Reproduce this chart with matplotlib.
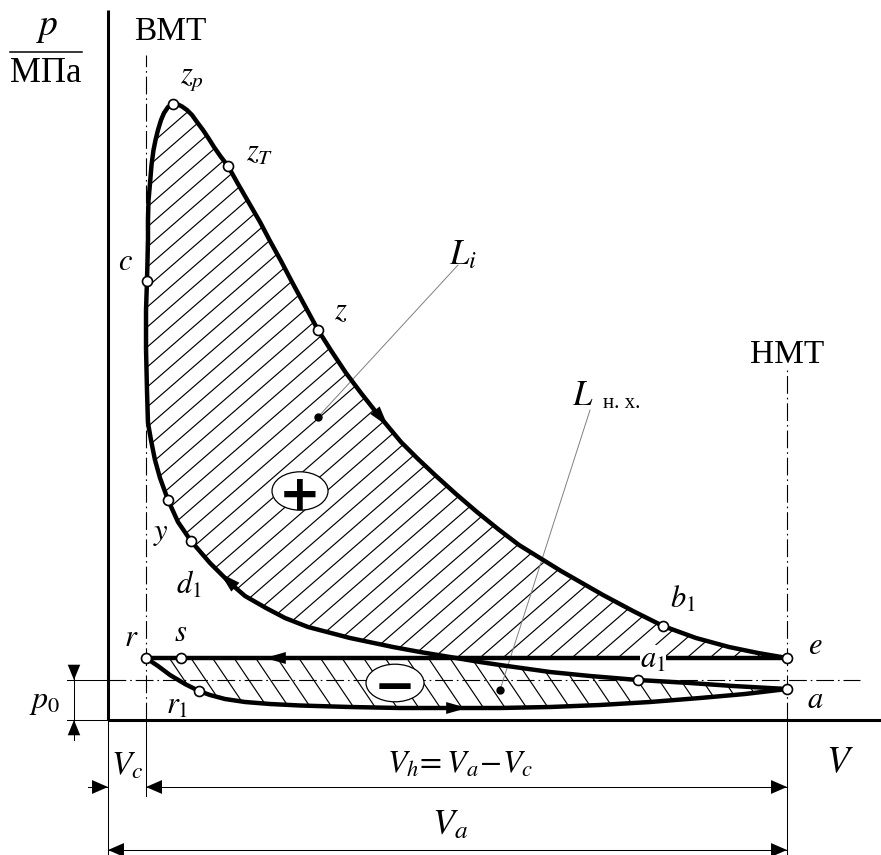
import numpy as np
import matplotlib
matplotlib.use("Agg")
import matplotlib.pyplot as plt
from matplotlib.patches import Polygon, Ellipse
from matplotlib.collections import LineCollection

plt.rcParams["font.family"] = ["Liberation Serif", "DejaVu Serif"]
plt.rcParams["mathtext.fontset"] = "stix"

# ---------------- data (V in % of V_a, p in MPa) ----------------
V_A = 100.0
V_C = 5.6
P_0 = 0.10
P_EXH = 0.155

# combustion + expansion: c -> z_p -> z_T -> z -> b1 -> e
exp_V = [5.74, 5.82, 5.89, 5.89, 5.96, 6.19, 6.41, 6.70, 7.00, 7.36, 7.81, 8.25, 8.84,
         9.57, 10.31, 10.90, 11.63, 12.37, 13.11, 13.99, 14.87, 15.61, 16.64, 17.67,
         19.15, 20.77, 22.39, 23.86, 25.48, 27.10, 29.01, 30.93, 32.99, 35.05, 37.26,
         39.47, 43.15, 45.66, 48.16, 51.25, 54.34, 57.44, 60.53, 63.62, 66.72, 69.81,
         72.90, 77.32, 81.74, 86.60, 91.46, 95.73, 100.0]
exp_p = [1.0975, 1.15, 1.2, 1.25, 1.2975, 1.3425, 1.3875, 1.425, 1.45, 1.475, 1.5, 1.5175, 1.5325,
         1.54, 1.5388, 1.5338, 1.525, 1.5125, 1.495, 1.475, 1.4525, 1.4325, 1.4075, 1.385,
         1.34, 1.2925, 1.245, 1.1975, 1.1475, 1.095, 1.035, 0.975, 0.92, 0.8675, 0.8175,
         0.77, 0.695, 0.6525, 0.6125, 0.565, 0.52, 0.4775, 0.4375, 0.405, 0.3725, 0.3425,
         0.3125, 0.2725, 0.235, 0.205, 0.1825, 0.1675, 0.155]

# compression: a -> a1 -> d1 -> y -> c
comp_V = [100.0, 92.05, 85.71, 78.06, 70.99, 65.10, 57.73, 54.79, 50.37, 45.95, 41.97,
          35.64, 29.46, 26.07, 23.27, 20.18, 17.97, 15.02, 12.22, 10.31, 8.84, 7.66,
          6.92, 6.33, 5.89, 5.74, 5.60, 5.60, 5.74]
comp_p = [0.0775, 0.085, 0.0925, 0.1, 0.11, 0.12, 0.1375, 0.145, 0.1575, 0.17, 0.1825,
          0.205, 0.2325, 0.255, 0.28, 0.31, 0.3425, 0.3925, 0.4475, 0.495, 0.55, 0.605,
          0.65, 0.70, 0.7425, 0.825, 0.9275, 1.025, 1.0975]

# intake: r -> r1 -> a
int_V = [5.60, 7.36, 9.13, 11.34, 13.40, 15.02, 17.23, 20.18, 23.86, 28.28, 35.64,
         43.00, 51.40, 57.73, 65.10, 72.46, 79.82, 87.19, 93.81, 100.0]
int_p = [0.155, 0.135, 0.1125, 0.09, 0.0725, 0.0625, 0.0525, 0.045, 0.04, 0.03625, 0.0325,
         0.03, 0.03, 0.03, 0.0325, 0.0375, 0.045, 0.055, 0.065, 0.0775]

# exhaust: e -> r
exh_V = [100.0, 5.6]
exh_p = [0.155, 0.155]

# characteristic points
pt_names = ["z_p", "z_T", "c", "z", "y", "d_1", "b_1", "e", "a_1", "a", "r", "s", "r_1"]
pt_V = [9.57, 17.67, 5.74, 30.93, 8.84, 12.22, 81.74, 100.0, 78.06, 100.0, 5.6, 10.75, 13.40]
pt_p = [1.54, 1.385, 1.0975, 0.975, 0.55, 0.4475, 0.235, 0.155, 0.1, 0.0775, 0.155, 0.155, 0.0725]
# label offsets (pixels)
pt_off = [(19, 25), (32, 13), (-21, 19), (23, 18), (-7, -33), (-2, -44), (20, 26),
          (28, 12), (15, 20), (28, -11), (-15, 20), (0, 25), (-22, -15)]

# ---------------- figure ----------------
W, H, DPI = 881, 855, 100
fig = plt.figure(figsize=(W / DPI, H / DPI), dpi=DPI)
ax = fig.add_axes([0, 0, 1, 1])
ax.set_xlim(-108 / 6.79, (W - 108) / 6.79)
ax.set_ylim((720 - H) / 400, 720 / 400)
ax.axis("off")

K = "black"
LW_CURVE = 3.2
LW_AX = 2.2
LW_THIN = 0.75


def hatch(poly, angle_deg, spacing, lw=0.85):
    patch = Polygon(poly, closed=True, facecolor="none", edgecolor="none")
    ax.add_patch(patch)
    disp = ax.transData.transform(np.asarray(poly))
    x0, y0 = disp.min(0) - 60
    x1, y1 = disp.max(0) + 60
    t = np.tan(np.radians(angle_deg))
    cands = [y0 - t * x0, y0 - t * x1, y1 - t * x0, y1 - t * x1]
    ks = np.arange(np.floor(min(cands) / spacing) * spacing, max(cands) + spacing, spacing)
    inv = ax.transData.inverted()
    segs = [inv.transform([(x0, t * x0 + k), (x1, t * x1 + k)]) for k in ks]
    lc = LineCollection(segs, colors=K, linewidths=lw, zorder=1)
    ax.add_collection(lc)
    lc.set_clip_path(patch)


# regions
cV, cp = np.array(comp_V), np.array(comp_p)
mono = slice(0, 25)  # monotonic part of the compression line
V_x = float(np.interp(P_EXH, cp[mono], cV[mono]))
hi = cp > P_EXH
upper = [(V_x, P_EXH)] + list(zip(cV[hi], cp[hi])) + list(zip(exp_V[1:], exp_p[1:]))
lower = [(exh_V[1], exh_p[1]), (V_x, P_EXH)] + list(zip(cV[~hi][::-1], cp[~hi][::-1])) \
        + list(zip(int_V[::-1], int_p[::-1]))
hatch(upper, 41, 20)
hatch(lower, -56, 32)

# axes
ax.plot([0, 0], [0, 1.775], color=K, lw=LW_AX, solid_capstyle="butt", zorder=5)
ax.plot([0, (W - 108) / 6.79], [0, 0], color=K, lw=LW_AX, solid_capstyle="butt", zorder=5)

# dead-centre lines
dd = dict(color=K, lw=0.8, dashes=(16, 3.5, 1.5, 3.5), zorder=2)
ax.plot([V_C, V_C], [0, 1.6625], **dd)
ax.plot([V_A, V_A], [0, 0.875], **dd)
ax.plot([0, 110.75], [P_0, P_0], **dd)
thin = dict(color=K, lw=LW_THIN, zorder=2)
ax.plot([V_C, V_C], [0, -0.19], **thin)
ax.plot([V_A, V_A], [0, -0.3375], **thin)
ax.plot([0, 0], [0, -0.3375], **thin)
ax.plot([-6.04, 0], [P_0, P_0], **thin)
ax.plot([-6.04, 0], [0, 0], **thin)

# cycle curves
cs = dict(color=K, lw=LW_CURVE, solid_joinstyle="round", solid_capstyle="round", zorder=4)
ax.plot(exp_V, exp_p, **cs)
ax.plot(comp_V, comp_p, **cs)
ax.plot(int_V, int_p, **cs)
ax.plot(exh_V, exh_p, **cs)


def head(tip, tail, hl=15, hw=4.3):
    ax.annotate("", xy=tip, xytext=tail,
                arrowprops=dict(arrowstyle=f"-|>,head_length={hl},head_width={hw}",
                                mutation_scale=1, lw=0, color=K,
                                shrinkA=0, shrinkB=0), zorder=6)


# flow-direction arrows
eV, ep = exp_V[23:], exp_p[23:]
v1, v0 = 41.24, 37.0
head((v1, np.interp(v1, eV, ep)), (v0, np.interp(v0, eV, ep)))
v1, v0 = 16.5, 20.0
head((v1, np.interp(v1, cV[mono][::-1], cp[mono][::-1])), (v0, np.interp(v0, cV[mono][::-1], cp[mono][::-1])))
head((23.12, P_EXH), (27.0, P_EXH))
v1, v0 = 52.87, 49.0
head((v1, np.interp(v1, int_V, int_p)), (v0, np.interp(v0, int_V, int_p)))

# markers
ax.plot(pt_V, pt_p, "o", ms=7.2, mfc="white", mec=K, mew=1.2, ls="none", zorder=7)
for n, v, p, off in zip(pt_names, pt_V, pt_p, pt_off):
    kw = {}
    if n == "a_1":
        kw["bbox"] = dict(facecolor="white", edgecolor="none", pad=0.5)
    ax.annotate(f"${n}$", xy=(v, p), xytext=off, textcoords="offset pixels",
                ha="center", va="center", fontsize=22, zorder=8, **kw)

# plus / minus signs
ax.add_patch(Ellipse((28.28, 0.5725), 8.25, 0.096, facecolor="white", edgecolor=K, lw=0.9, zorder=3))
ax.text(28.28, 0.5725, "+", fontsize=36, fontweight="bold", family="DejaVu Sans",
        ha="center", va="center_baseline", zorder=4)
ax.add_patch(Ellipse((42.27, 0.0925), 8.54, 0.094, facecolor="white", edgecolor=K, lw=0.9, zorder=3))
ax.text(42.27, 0.0925, "\u2212", fontsize=36, fontweight="bold", family="DejaVu Sans",
        ha="center", va="center_baseline", zorder=4)

# work leaders
ax.plot([30.93, 51.55], [0.7575, 1.1375], color="#808080", lw=0.7, zorder=2)
ax.plot([57.73, 70.99], [0.075, 0.775], color="#808080", lw=0.7, zorder=2)
ax.plot([30.93, 57.73], [0.7575, 0.075], "o", color=K, ms=5, zorder=5)
ax.text(52.28, 1.16, "$L_i$", fontsize=25, ha="center", va="center")
ax.text(69.96, 0.81, "$L$", fontsize=25, ha="center", va="center")
ax.text(75.7, 0.7925, "н. х.", fontsize=15, ha="center", va="center")

# axis labels
ax.text(-8.98, 1.73, "$p$", fontsize=27, ha="center", va="center")
ax.plot([-14.43, -3.83], [1.67, 1.67], color=K, lw=1.1)
ax.text(-9.13, 1.6175, "МПа", fontsize=25, ha="center", va="center")
ax.text(9.13, 1.72, "ВМТ", fontsize=24, ha="center", va="center")
ax.text(100.0, 0.9125, "НМТ", fontsize=24, ha="center", va="center")
ax.text(107.8, -0.1075, "$V$", fontsize=27, ha="center", va="center")

# p0 dimension
ax.plot([-5.01, -5.01], [0.1375, -0.05], **thin)
head((-5.01, P_0), (-5.01, 0.16), hl=11, hw=4.5)
head((-5.01, 0.0), (-5.01, -0.06), hl=11, hw=4.5)
ax.text(-9.28, 0.045, "$p_0$", fontsize=23, ha="center", va="center")

# volume dimensions
ax.plot([-2.95, 0], [-0.1675, -0.1675], **thin)
head((0.0, -0.1675), (-4.0, -0.1675), hl=11.5, hw=5)
ax.plot([V_C, V_A], [-0.1675, -0.1675], **thin)
head((V_C, -0.1675), (V_C + 4.0, -0.1675), hl=11.5, hw=5)
head((V_A, -0.1675), (V_A - 4.0, -0.1675), hl=11.5, hw=5)
ax.plot([0, V_A], [-0.325, -0.325], **thin)
head((0.0, -0.325), (4.0, -0.325), hl=11.5, hw=5)
head((V_A, -0.325), (V_A - 4.0, -0.325), hl=11.5, hw=5)
ax.text(2.8, -0.115, "$V_c$", fontsize=24, ha="center", va="center")
ax.text(51.84, -0.1125, r"$V_h\!=V_a\!-\!V_c$", fontsize=23, ha="center", va="center")
ax.text(50.37, -0.265, "$V_a$", fontsize=26, ha="center", va="center")

fig.savefig("out.png", dpi=DPI, facecolor="white")
